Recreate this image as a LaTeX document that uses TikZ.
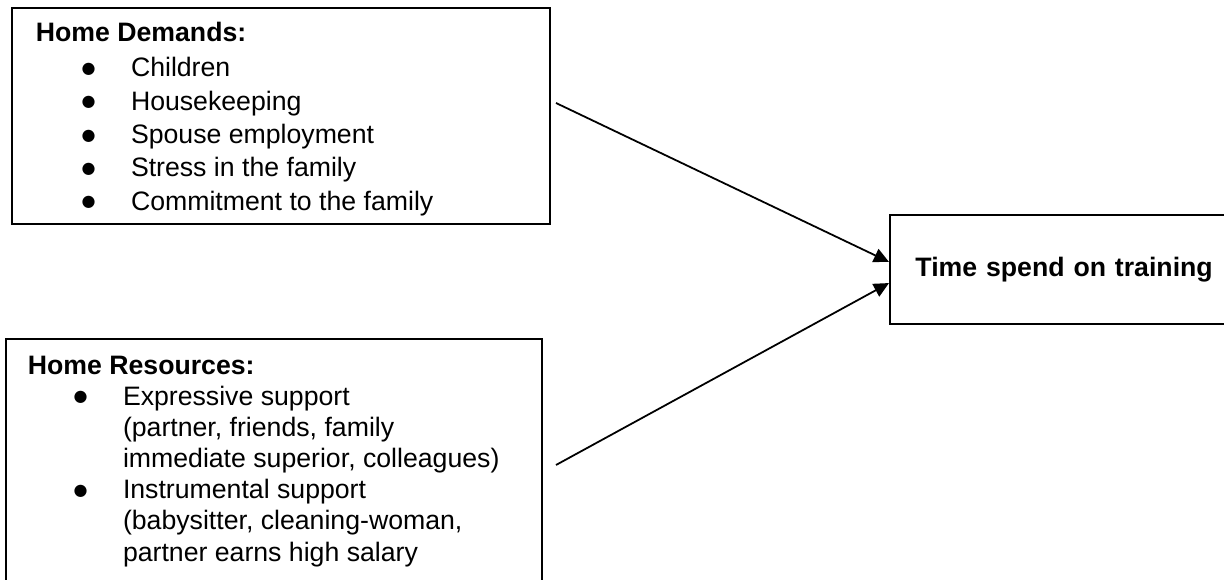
\documentclass[tikz,border=0pt]{standalone}
\usepackage{fontspec}
\setmainfont{Liberation Sans}
\newfontfamily\dotfont{DejaVu Sans}
\usetikzlibrary{arrows.meta, positioning}

\newcommand{\bulletline}[1]{\hspace*{20.6pt}\makebox[22.2pt][l]{\raisebox{1.5pt}{\dotfont\fontsize{7.2}{8}\selectfont ●}}#1}
\newcommand{\contline}[1]{\hspace*{42.8pt}#1}

\begin{document}
\begin{tikzpicture}[x=0.45pt, y=-0.45pt, line width=0.8pt,
    frame/.style={rectangle, draw=black, inner sep=0pt},
    listtext/.style={inner sep=0pt, anchor=base west, font=\fontsize{12}{15}\selectfont},
    link/.style={-{Triangle[length=6.8pt, width=6.4pt]}}
]
\useasboundingbox (0,0) rectangle (1224,580);

\node[frame, minimum width=242.1pt, minimum height=97.2pt] (demands) at (281,116) {};
\node[listtext] (demandslist) at (35,41.7) {\begin{tabular}[t]{@{}l@{}}
  \textbf{Home Demands:}\\[0.75pt]
  \bulletline{Children}\\
  \bulletline{Housekeeping}\\
  \bulletline{Spouse employment}\\
  \bulletline{Stress in the family}\\
  \bulletline{Commitment to the family}
\end{tabular}};

\node[frame, minimum width=241.2pt, minimum height=117.45pt] (resources) at (274,469.5) {};
\node[listtext, font=\fontsize{12}{14.05}\selectfont] (resourceslist) at (27,375) {\begin{tabular}[t]{@{}l@{}}
  \textbf{Home Resources:}\\[-0.5pt]
  \bulletline{Expressive support}\\
  \contline{(partner, friends, family}\\
  \contline{immediate superior, colleagues)}\\
  \bulletline{Instrumental support}\\
  \contline{(babysitter, cleaning-woman,}\\
  \contline{partner earns high salary}
\end{tabular}};

\node[frame, font=\fontsize{12}{14.4}\selectfont\bfseries, minimum height=49.05pt, inner xsep=11.5pt, text width=150pt, align=left, anchor=west] (training) at (889,269.5) {Time spend on training};

\coordinate (demandsout) at (556,103);
\coordinate (resourcesout) at (556,465);
\draw[link] (demandsout) -- ([yshift=3.4pt]training.west);
\draw[link] (resourcesout) -- ([yshift=-6.1pt]training.west);
\end{tikzpicture}
\end{document}
